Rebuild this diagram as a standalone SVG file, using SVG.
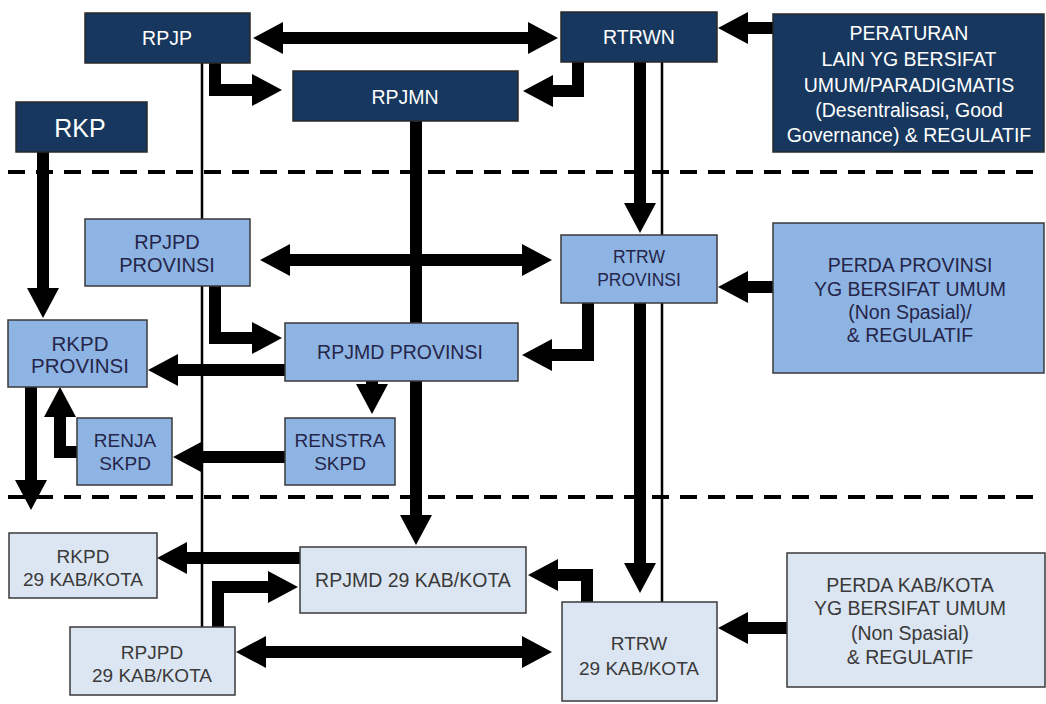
<svg xmlns="http://www.w3.org/2000/svg" width="1046" height="704" viewBox="0 0 1046 704">
<style>
.dark{fill:#17375E;stroke:#2a2a2a;stroke-width:1.5}
.mid{fill:#8EB4E3;stroke:#3a3a3a;stroke-width:1.5}
.light{fill:#DCE6F2;stroke:#3a3a3a;stroke-width:1.5}
text{font-family:"Liberation Sans",Arial,sans-serif;text-anchor:middle;dominant-baseline:central;font-size:19px}
.wt{fill:#ffffff;font-size:19.5px}
.mt{fill:#25254a;font-size:20px}
.lt{fill:#3a3a3a}
.arr{fill:none;stroke:#000;stroke-width:12;stroke-linejoin:miter}
.thin{fill:none;stroke:#000;stroke-width:2.5}
.dash{fill:none;stroke:#000;stroke-width:4;stroke-dasharray:17 11}
</style>
<defs>
<marker id="ah" viewBox="0 0 30 32" markerWidth="30" markerHeight="32" markerUnits="userSpaceOnUse" refX="1" refY="16" orient="auto-start-reverse">
<path d="M0,0 L30,16 L0,32 Z" fill="#000"/>
</marker>
</defs>
<rect width="1046" height="704" fill="#ffffff"/>
<g id="separators">
<line class="dash" x1="8" y1="172" x2="1042" y2="172"/>
<line class="dash" x1="8" y1="497" x2="1042" y2="497"/>
</g>
<g id="connectors">
<line class="thin" x1="202" y1="63" x2="202" y2="627"/>
<line class="thin" x1="662" y1="62" x2="662" y2="602"/>
<path class="arr" d="M282,38 L529,38" marker-start="url(#ah)" marker-end="url(#ah)"/>
<path class="arr" d="M773,28 L747,28" marker-end="url(#ah)"/>
<path class="arr" d="M215,63 L215,90 L253,90" marker-end="url(#ah)"/>
<path class="arr" d="M578,62 L578,91 L552,91" marker-end="url(#ah)"/>
<path class="arr" d="M640,62 L640,204" marker-end="url(#ah)"/>
<path class="arr" d="M43,152 L43,289" marker-end="url(#ah)"/>
<path class="arr" d="M416,121 L416,516" marker-end="url(#ah)"/>
<path class="arr" d="M289,260 L523,260" marker-start="url(#ah)" marker-end="url(#ah)"/>
<path class="arr" d="M215,286 L215,338 L253,338" marker-end="url(#ah)"/>
<path class="arr" d="M588,303 L588,355 L551,355" marker-end="url(#ah)"/>
<path class="arr" d="M640,303 L640,564" marker-end="url(#ah)"/>
<path class="arr" d="M773,287 L747,287" marker-end="url(#ah)"/>
<path class="arr" d="M285,370 L177,370" marker-end="url(#ah)"/>
<path class="arr" d="M372,381 L372,385" marker-end="url(#ah)"/>
<path class="arr" d="M285,457 L202,457" marker-end="url(#ah)"/>
<path class="arr" d="M77,452 L60,452 L60,416" marker-end="url(#ah)"/>
<path class="arr" d="M31,387 L31,481" marker-end="url(#ah)"/>
<path class="arr" d="M300,558 L186,558" marker-end="url(#ah)"/>
<path class="arr" d="M218,627 L218,587 L269,587" marker-end="url(#ah)"/>
<path class="arr" d="M265,652 L523,652" marker-start="url(#ah)" marker-end="url(#ah)"/>
<path class="arr" d="M587,602 L587,575 L557,575" marker-end="url(#ah)"/>
<path class="arr" d="M787,628 L747,628" marker-end="url(#ah)"/>
</g>
<g id="rpjp"><rect class="dark" x="85" y="13" width="165" height="50"/><text class="wt" x="167" y="38">RPJP</text></g>
<g id="rtrwn"><rect class="dark" x="561" y="12" width="156" height="50"/><text class="wt" x="639" y="37">RTRWN</text></g>
<g id="rpjmn"><rect class="dark" x="293" y="71" width="225" height="50"/><text class="wt" x="405" y="97">RPJMN</text></g>
<g id="rkp"><rect class="dark" x="16" y="102" width="131" height="50"/><text class="wt" x="80" y="128" style="font-size:25px">RKP</text></g>
<g id="peraturan"><rect class="dark" x="773" y="14" width="271" height="138"/>
<text class="wt" x="909" y="33">PERATURAN</text>
<text class="wt" x="909" y="59">LAIN YG BERSIFAT</text>
<text class="wt" x="909" y="85">UMUM/PARADIGMATIS</text>
<text class="wt" x="909" y="110">(Desentralisasi,  Good</text>
<text class="wt" x="909" y="135">Governance) &amp; REGULATIF</text></g>
<g id="rpjpd-prov"><rect class="mid" x="85" y="219" width="165" height="67"/><text class="mt" x="167" y="242">RPJPD</text><text class="mt" x="167" y="265">PROVINSI</text></g>
<g id="rtrw-prov"><rect class="mid" x="561" y="235" width="156" height="68"/><text class="mt" x="639" y="257" style="font-size:17.5px">RTRW</text><text class="mt" x="639" y="280" style="font-size:17.5px">PROVINSI</text></g>
<g id="perda-prov"><rect class="mid" x="773" y="223" width="271" height="150"/>
<text class="mt" x="910" y="265" style="font-size:19.5px">PERDA PROVINSI</text>
<text class="mt" x="910" y="289" style="font-size:19.5px">YG BERSIFAT UMUM</text>
<text class="mt" x="910" y="312" style="font-size:19.5px">(Non Spasial)/</text>
<text class="mt" x="910" y="335" style="font-size:19.5px">&amp; REGULATIF</text></g>
<g id="rkpd-prov"><rect class="mid" x="8" y="320" width="139" height="67"/><text class="mt" x="80" y="343" style="font-size:20.5px">RKPD</text><text class="mt" x="80" y="365" style="font-size:20.5px">PROVINSI</text></g>
<g id="rpjmd-prov"><rect class="mid" x="285" y="323" width="233" height="58"/><text class="mt" x="400" y="352" style="font-size:19.5px">RPJMD PROVINSI</text></g>
<g id="renstra"><rect class="mid" x="285" y="418" width="110" height="67"/><text class="mt" x="340" y="440" style="font-size:19px">RENSTRA</text><text class="mt" x="340" y="463" style="font-size:19px">SKPD</text></g>
<g id="renja"><rect class="mid" x="77" y="418" width="95" height="67"/><text class="mt" x="125" y="440" style="font-size:19px">RENJA</text><text class="mt" x="125" y="463" style="font-size:19px">SKPD</text></g>
<g id="rkpd-kab"><rect class="light" x="9" y="533" width="148" height="65"/><text class="lt" x="83" y="556">RKPD</text><text class="lt" x="83" y="579">29 KAB/KOTA</text></g>
<g id="rpjmd-kab"><rect class="light" x="300" y="547" width="226" height="66"/><text class="lt" x="413" y="580" style="font-size:19.5px">RPJMD 29 KAB/KOTA</text></g>
<g id="rpjpd-kab"><rect class="light" x="70" y="627" width="165" height="68"/><text class="lt" x="152" y="652">RPJPD</text><text class="lt" x="152" y="675">29 KAB/KOTA</text></g>
<g id="rtrw-kab"><rect class="light" x="562" y="602" width="155" height="99"/><text class="lt" x="639" y="643">RTRW</text><text class="lt" x="639" y="668">29 KAB/KOTA</text></g>
<g id="perda-kab"><rect class="light" x="787" y="553" width="258" height="134"/>
<text class="lt" x="910" y="585" style="font-size:19.5px">PERDA KAB/KOTA</text>
<text class="lt" x="910" y="608" style="font-size:19.5px">YG BERSIFAT UMUM</text>
<text class="lt" x="910" y="633" style="font-size:19.5px">(Non Spasial)</text>
<text class="lt" x="910" y="657" style="font-size:19.5px">&amp; REGULATIF</text></g>
</svg>
